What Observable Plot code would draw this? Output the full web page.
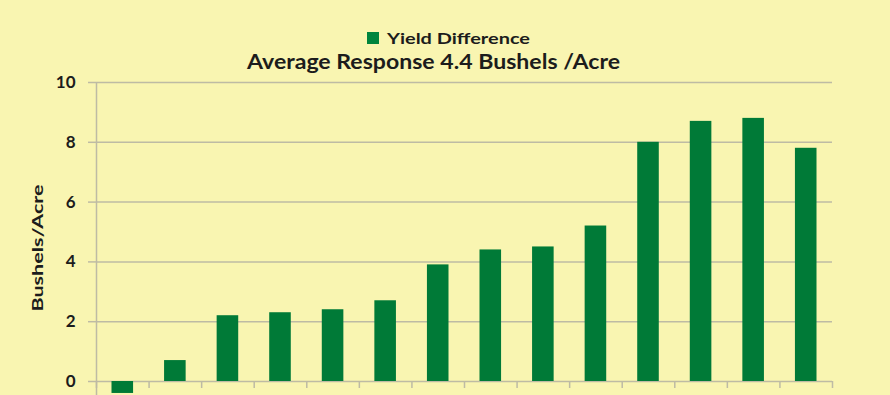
<!DOCTYPE html>
<html>
<head>
<meta charset="utf-8">
<script src="https://cdn.jsdelivr.net/npm/d3@7"></script>
<script src="https://cdn.jsdelivr.net/npm/@observablehq/plot@0.6"></script>
<style>
  html, body { margin: 0; padding: 0; background: #F9F5B1; }
  #wrap { position: relative; width: 890px; height: 395px; overflow: hidden; background: #F9F5B1; font-family: Lato, "Open Sans", sans-serif; color: #1c1c1c; }
  #chart { position: absolute; left: 0; top: 0; }
  .legend { position: absolute; left: 367px; top: 28px; font-weight: 700; font-size: 16px; line-height: 20px; display: flex; align-items: center; white-space: nowrap; }
  .legend .sw { width: 12px; height: 12px; background: #00843D; margin-right: 8px; flex: none; }
  .legend #legtext { display: inline-block; transform-origin: left center; }
  .title { position: absolute; left: 247px; top: 50px; font-weight: 700; font-size: 20px; line-height: 22px; white-space: nowrap; transform-origin: left center; }
  .ylab { position: absolute; font-weight: 700; font-size: 16px; line-height: 16px; white-space: nowrap; }
</style>
</head>
<body>
<div id="wrap">
  <div id="chart"></div>
  <div class="legend"><span class="sw"></span><span id="legtext"></span></div>
  <div class="title" id="title"></div>
  <div class="ylab" id="ylab"></div>
</div>
<script>
const categories = ["1","2","3","4","5","6","7","8","9","10","11","12","13","14"];
const values = [-0.4, 0.7, 2.2, 2.3, 2.4, 2.7, 3.9, 4.4, 4.5, 5.2, 8.0, 8.7, 8.8, 7.8];
const yTicks = [0, 2, 4, 6, 8, 10];
const seriesName = "Yield Difference";
const titleText = "Average Response 4.4 Bushels /Acre";
const yLabel = "Bushels/Acre";

const data = categories.map((c, i) => ({cat: c, i, value: values[i]}));
const bounds = d3.range(categories.length + 1);
const gridColor = "#BEBBA4";

const chart = Plot.plot({
  width: 890,
  height: 395,
  marginLeft: 96,
  marginRight: 58,
  marginTop: 82,
  marginBottom: 14,
  style: {background: "transparent", fontFamily: "Lato, 'Open Sans', sans-serif", color: "#1c1c1c"},
  x: {type: "linear", domain: [0, categories.length], axis: null},
  y: {domain: [0, 10], axis: null},
  marks: [
    Plot.ruleY(yTicks, {stroke: gridColor, strokeWidth: 1.5}),
    Plot.ruleX([0], {y1: -0.6, y2: 10, stroke: gridColor, strokeWidth: 1.5}),
    Plot.axisY({ticks: yTicks, tickSize: 8, tickPadding: 13, stroke: gridColor, strokeWidth: 1.5, fill: "#1c1c1c", fontSize: 17, fontWeight: 700, label: null}),
    Plot.axisX({ticks: bounds, tickSize: 7, tickFormat: () => "", stroke: gridColor, strokeWidth: 1.5, label: null}),
    Plot.rectY(data, {x1: "i", x2: d => d.i + 1, y: "value", fill: "#007A37", insetLeft: 15.5, insetRight: 15.5})
  ]
});
document.getElementById("chart").appendChild(chart);

function fitWidth(el, target) {
  const w = el.getBoundingClientRect().width;
  if (w > 0) el.style.transform = `scaleX(${target / w})`;
}
const leg = document.getElementById("legtext");
leg.textContent = seriesName;
fitWidth(leg, 143);
const ttl = document.getElementById("title");
ttl.textContent = titleText;
fitWidth(ttl, 373);

const yl = document.getElementById("ylab");
yl.textContent = yLabel;
const r = yl.getBoundingClientRect();
const k = 127 / r.width;
yl.style.left = (37 - r.width / 2) + "px";
yl.style.top = (248 - r.height / 2) + "px";
yl.style.transform = `rotate(-90deg) scaleX(${k})`;
</script>
</body>
</html>
